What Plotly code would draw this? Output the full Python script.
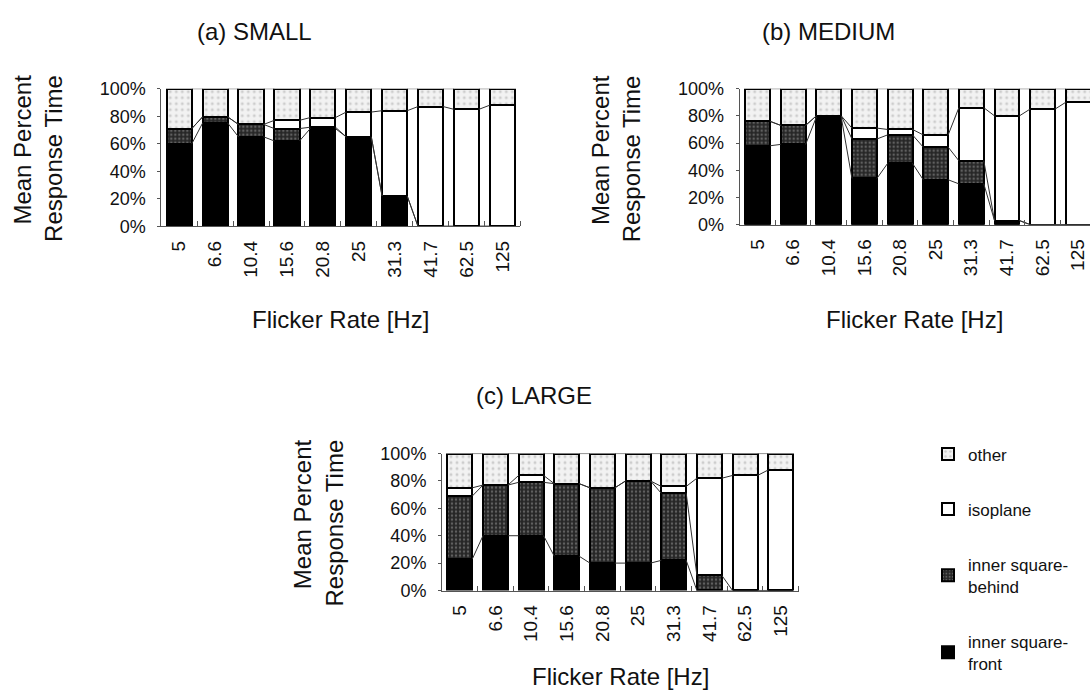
import plotly.graph_objects as go

# Flicker rates (category labels on every x axis)
rates = ["5", "6.6", "10.4", "15.6", "20.8", "25", "31.3", "41.7", "62.5", "125"]

# Mean percent response time per response category, (a) SMALL
small_front = [60, 75, 65, 62, 71, 65, 22, 0, 0, 0]
small_behind = [11, 4.5, 9, 9, 1, 0, 0, 0, 0, 0]
small_iso = [0, 0, 0, 6, 7, 18, 62, 87, 85, 88]
small_other = [29, 20.5, 26, 23, 21, 17, 16, 13, 15, 12]

# (b) MEDIUM
medium_front = [58, 59, 79, 34, 45, 33, 30, 3, 0, 0]
medium_behind = [18, 14, 1, 29, 21, 24, 17, 0, 0, 0]
medium_iso = [0, 0, 0, 8, 4, 9, 39, 77, 85, 90]
medium_other = [24, 27, 20, 29, 30, 34, 14, 20, 15, 10]

# (c) LARGE
large_front = [23, 40, 40, 25, 20, 20, 22, 0, 0, 0]
large_behind = [46, 37, 39, 53, 55, 60, 49, 11, 0, 0]
large_iso = [6, 0, 5, 0, 0, 0, 5, 71, 84, 88]
large_other = [25, 23, 16, 22, 25, 20, 24, 18, 16, 12]

series_names = ["inner square-<br>front", "inner square-<br>behind", "isoplane", "other"]
legend_ranks = [4, 3, 2, 1]

pct_vals = [0, 20, 40, 60, 80, 100]
pct_text = ["0%", "20%", "40%", "60%", "80%", "100%"]

W, H = 1090, 695
FONT = "Liberation Sans, Arial, Helvetica, sans-serif"
BAR_W = 0.7


def px_x(v):
    return v / W


def px_y(v):
    return 1 - v / H


styles = [
    dict(color="#000000"),
    dict(color="#2a2a2a", pattern=dict(shape=".", fgcolor="#9a9a9a", bgcolor="#262626", size=4, solidity=0.3)),
    dict(color="#ffffff"),
    dict(color="#eeeeee", pattern=dict(shape=".", fgcolor="#a8a8a8", bgcolor="#f2f2f2", size=6, solidity=0.2)),
]

panels = [
    dict(name="(a) SMALL", data=[small_front, small_behind, small_iso, small_other],
         xd=(161.3, 520.3), yd=(222.7, 81.0), xr=[-0.5, 9.5], xt=319, tt=22),
    dict(name="(b) MEDIUM", data=[medium_front, medium_behind, medium_iso, medium_other],
         xd=(739.7, 1090.0), yd=(221.0, 81.0), xr=[-0.5, 9.33], xt=319, tt=22),
    dict(name="(c) LARGE", data=[large_front, large_behind, large_iso, large_other],
         xd=(442.0, 798.5), yd=(597.7, 456.7), xr=[-0.5, 9.5], xt=686, tt=397),
]

fig = go.Figure()
xpos = list(range(len(rates)))
annotations = []

for k, p in enumerate(panels):
    suffix = "" if k == 0 else str(k + 1)
    xa, ya = "x" + suffix, "y" + suffix
    is_last = k == len(panels) - 1

    # stacked bars
    for vals, name, st, rank in zip(p["data"], series_names, styles, legend_ranks):
        fig.add_trace(go.Bar(
            x=xpos, y=vals, width=BAR_W, name=name,
            marker=dict(**st, line=dict(color="#000000", width=2)),
            xaxis=xa, yaxis=ya, showlegend=is_last, legendgroup=name, legendrank=rank,
        ))

    # connector lines between neighbouring bars at each cumulative boundary
    cum = []
    running = [0.0] * len(rates)
    for vals in p["data"]:
        running = [r + v for r, v in zip(running, vals)]
        cum.append(list(running))
    lx, ly = [], []
    for level in cum:
        for i in range(len(rates) - 1):
            lx += [i + BAR_W / 2, i + 1 - BAR_W / 2, None]
            ly += [level[i], level[i + 1], None]
    fig.add_trace(go.Scatter(
        x=lx, y=ly, mode="lines", line=dict(color="#303030", width=1),
        xaxis=xa, yaxis=ya, showlegend=False, hoverinfo="skip",
    ))

    x0, x1 = p["xd"]
    yb, yt = p["yd"]
    fig.update_layout(**{
        ("xaxis" + suffix): dict(
            domain=[px_x(x0), min(1.0, px_x(x1))], range=p["xr"], anchor=ya,
            tickvals=xpos, ticktext=rates, tickangle=-90, ticks="",
            ticklabelstandoff=6,
            showline=True, linecolor="#555555", linewidth=1, showgrid=False, zeroline=False,
            tickfont=dict(family=FONT, size=19, color="#111111"),
            minor=dict(tickvals=[i + 0.5 for i in range(len(rates))], ticks="inside",
                       ticklen=5, tickcolor="#555555", tickwidth=1),
            fixedrange=True,
        ),
        ("yaxis" + suffix): dict(
            domain=[px_y(yb), px_y(yt)], range=[0, 100], anchor=xa,
            tickmode="array", tickvals=pct_vals, ticktext=pct_text,
            ticks="outside", ticklen=3, tickcolor="#555555", ticklabelstandoff=8,
            showline=True, linecolor="#555555", linewidth=1, showgrid=False, zeroline=False,
            tickfont=dict(family=FONT, size=18, color="#111111"),
            fixedrange=True,
        ),
    })

    xc = (x0 + x1) / 2
    # panel title
    annotations.append(dict(
        text=p["name"], xref="paper", yref="paper", x=px_x(xc - 86), y=px_y(p["tt"]),
        xanchor="center", yanchor="middle", showarrow=False,
        font=dict(family=FONT, size=24, color="#111111"),
    ))
    # x-axis title
    annotations.append(dict(
        text="Flicker Rate [Hz]", xref="paper", yref="paper", x=px_x(min(xc, 918)), y=px_y(p["xt"]),
        xanchor="center", yanchor="middle", showarrow=False,
        font=dict(family=FONT, size=24, color="#111111"),
    ))
    # y-axis title
    annotations.append(dict(
        text="Mean Percent<br>Response Time", xref="paper", yref="paper",
        x=px_x(x0 - 124), y=px_y(yt - 16), xanchor="center", yanchor="top",
        textangle=-90, align="right", showarrow=False,
        font=dict(family=FONT, size=24, color="#111111"),
    ))

fig.update_layout(
    width=W, height=H, margin=dict(l=0, r=0, t=0, b=0),
    paper_bgcolor="#ffffff", plot_bgcolor="#ffffff",
    barmode="stack", bargap=0.3,
    annotations=annotations,
    legend=dict(
        x=px_x(928), y=px_y(439), xanchor="left", yanchor="top",
        traceorder="grouped", tracegroupgap=30,
        font=dict(family=FONT, size=17, color="#111111"),
        bgcolor="rgba(0,0,0,0)", itemwidth=30,
    ),
    showlegend=True,
)

fig.write_html("out.html")
